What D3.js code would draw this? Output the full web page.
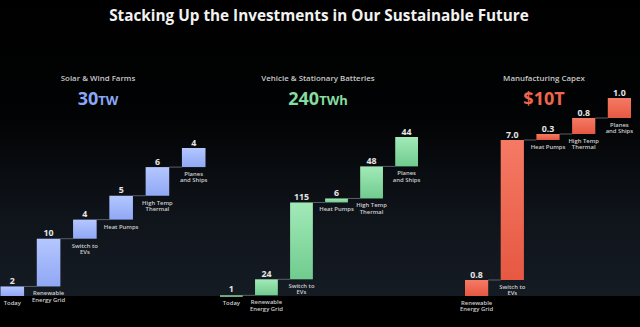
<!DOCTYPE html>
<html>
<head>
<meta charset="utf-8">
<script src="https://cdn.jsdelivr.net/npm/d3@7"></script>
<style>
  html, body { margin: 0; padding: 0; background: #000; }
  svg { display: block; }
</style>
</head>
<body>
<div id="chart"></div>
<script>
// ---------- data ----------
const mainTitle = "Stacking Up the Investments in Our Sustainable Future";

const solarTitle = "Solar & Wind Farms";
const solarTotal = ["30", "TW"];
const solarCategories = ["Today", "Renewable\nEnergy Grid", "Switch to\nEVs", "Heat Pumps", "High Temp\nThermal", "Planes\nand Ships"];
const solarValues = [2, 10, 4, 5, 6, 4];

const batteryTitle = "Vehicle & Stationary Batteries";
const batteryTotal = ["240", "TWh"];
const batteryCategories = ["Today", "Renewable\nEnergy Grid", "Switch to\nEVs", "Heat Pumps", "High Temp\nThermal", "Planes\nand Ships"];
const batteryValues = [1, 24, 115, 6, 48, 44];

const capexTitle = "Manufacturing Capex";
const capexTotal = ["$10T", ""];
const capexCategories = ["Renewable\nEnergy Grid", "Switch to\nEVs", "Heat Pumps", "High Temp\nThermal", "Planes\nand Ships"];
const capexValues = [0.8, 7.0, 0.3, 0.8, 1.0];

// ---------- layout / style ----------
const W = 640, H = 327, baseY = 296;
const font = "'Open Sans', 'Liberation Sans', sans-serif";

const panels = [
  { title: solarTitle, total: solarTotal, cats: solarCategories, vals: solarValues, fmt: d3.format("d"),
    xr: [0.5, 205.5], top: 148, cx: 98, c1: "#b4c7ff", c2: "#90a7f4", head: "#8aa7f8", id: "g1" },
  { title: batteryTitle, total: batteryTotal, cats: batteryCategories, vals: batteryValues, fmt: d3.format("d"),
    xr: [220, 418], top: 137, cx: 318, c1: "#a2eab8", c2: "#70cb8e", head: "#86dba1", id: "g2" },
  { title: capexTitle, total: capexTotal, cats: capexCategories, vals: capexValues, fmt: d3.format(".1f"),
    xr: [465, 631], top: 98, cx: 544, c1: "#f57a64", c2: "#e65842", head: "#f0654d", id: "g3" }
];

const svg = d3.select("#chart").append("svg").attr("width", W).attr("height", H);
const defs = svg.append("defs");

const bg = defs.append("linearGradient").attr("id", "bg").attr("x1", 0).attr("y1", 0).attr("x2", 0).attr("y2", 1);
bg.append("stop").attr("offset", "0").attr("stop-color", "#000");
bg.append("stop").attr("offset", "0.4").attr("stop-color", "#020304");
bg.append("stop").attr("offset", "0.75").attr("stop-color", "#10151c");
bg.append("stop").attr("offset", "1").attr("stop-color", "#151b23");

svg.append("rect").attr("width", W).attr("height", baseY).attr("fill", "url(#bg)");
svg.append("rect").attr("y", baseY).attr("width", W).attr("height", H - baseY).attr("fill", "#000");

svg.append("text").attr("x", 319).attr("y", 20.5).attr("text-anchor", "middle")
  .attr("font-family", font).attr("font-weight", 700).attr("font-size", 15.3)
  .attr("fill", "#f2f2f2").text(mainTitle);

panels.forEach(p => {
  const g = svg.append("g");
  const grad = defs.append("linearGradient").attr("id", p.id).attr("x1", 0).attr("y1", 0).attr("x2", 0).attr("y2", 1);
  grad.append("stop").attr("offset", "0").attr("stop-color", p.c1);
  grad.append("stop").attr("offset", "1").attr("stop-color", p.c2);

  const total = d3.sum(p.vals);
  const y = d3.scaleLinear().domain([0, total]).range([baseY, p.top]);
  const x = d3.scaleBand().domain(p.cats.map((d, i) => i)).range(p.xr).paddingInner(0.35).paddingOuter(0);

  const cum = d3.cumsum(p.vals);
  const rows = p.vals.map((v, i) => ({ v, i, cat: p.cats[i], start: i ? cum[i - 1] : 0, end: cum[i] }));

  // headers
  g.append("text").attr("x", p.cx).attr("y", 81).attr("text-anchor", "middle")
    .attr("font-family", font).attr("font-weight", 600).attr("font-size", 7.9)
    .attr("fill", "#c9c9c9").text(p.title);
  const t = g.append("text").attr("x", p.cx).attr("y", 105).attr("text-anchor", "middle")
    .attr("font-family", font).attr("font-weight", 700).attr("fill", p.head);
  t.append("tspan").attr("font-size", 18).text(p.total[0]);
  if (p.total[1]) t.append("tspan").attr("font-size", 13).text(p.total[1]);

  // connectors
  g.selectAll("line.conn").data(rows.slice(0, -1)).join("line")
    .attr("x1", d => x(d.i) + x.bandwidth())
    .attr("x2", d => x(d.i + 1))
    .attr("y1", d => y(d.end)).attr("y2", d => y(d.end))
    .attr("stroke", "#5a5f66").attr("stroke-width", 1);

  // bars
  g.selectAll("rect.bar").data(rows).join("rect")
    .attr("x", d => x(d.i)).attr("width", x.bandwidth())
    .attr("y", d => y(d.end))
    .attr("height", d => Math.max(1.5, y(d.start) - y(d.end)))
    .attr("fill", `url(#${p.id})`);

  // value labels
  g.selectAll("text.val").data(rows).join("text")
    .attr("x", d => x(d.i) + x.bandwidth() / 2)
    .attr("y", d => Math.min(y(d.end), y(d.start) - 1.5) - 2.5)
    .attr("text-anchor", "middle")
    .attr("font-family", font).attr("font-weight", 700).attr("font-size", 8.8)
    .attr("fill", "#e6e6e6").text(d => p.fmt(d.v));

  // category labels
  const cl = g.selectAll("text.cat").data(rows).join("text")
    .attr("text-anchor", "middle")
    .attr("font-family", font).attr("font-weight", 600).attr("font-size", 5.9)
    .attr("fill", "#cfcfcf");
  cl.each(function (d) {
    const lines = d.cat.split("\n");
    const cx = x(d.i) + x.bandwidth() / 2;
    const y0 = y(d.start) + 9;
    d3.select(this).selectAll("tspan").data(lines).join("tspan")
      .attr("x", cx).attr("y", (l, k) => y0 + k * 6.2).text(l => l);
  });
});
</script>
</body>
</html>
